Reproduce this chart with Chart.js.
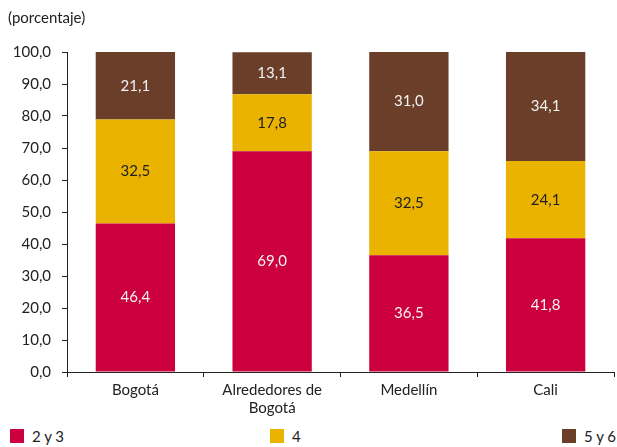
<!DOCTYPE html>
<html lang="es">
<head>
  <meta charset="UTF-8">
  <title>Estratos por ciudad</title>
  <script src="https://cdn.jsdelivr.net/npm/chart.js"></script>
  <style>
    body {
      margin: 0;
      background: #fff;
      font-family: Lato, sans-serif;
    }

    #wrap {
      position: relative;
      width: 617px;
      height: 420px;
    }

    #legend {
      position: relative;
      width: 617px;
      height: 27px;
      font-size: 15px;
      color: #222;
    }

    .item {
      position: absolute;
      top: 7px;
      display: flex;
      align-items: center;
    }

    .box {
      width: 14px;
      height: 14px;
      margin-right: 8px;
    }
  </style>
</head>
<body>
  <div id="wrap"><canvas id="barGraph"></canvas></div>
  <div id="legend"></div>

  <script>
    const categories = [["Bogotá"], ["Alrededores de", "Bogotá"], ["Medellín"], ["Cali"]];
    const seriesNames = ["2 y 3", "4", "5 y 6"];
    const estrato23 = [46.4, 69.0, 36.5, 41.8];
    const estrato4 = [32.5, 17.8, 32.5, 24.1];
    const estrato56 = [21.1, 13.1, 31.0, 34.1];
    const colors = ["#CC003C", "#E9B300", "#6A3E28"];
    const labelColors = ["#f2f2f2", "#222222", "#f2f2f2"];

    const fmt = (v) => v.toFixed(1).replace(".", ",");

    // draws the value in the middle of every segment
    const segmentLabels = {
      id: "segmentLabels",
      afterDatasetsDraw(chart) {
        const ctx = chart.ctx;
        ctx.save();
        ctx.font = "15px Lato, sans-serif";
        ctx.textAlign = "center";
        ctx.textBaseline = "middle";
        chart.data.datasets.forEach((ds, i) => {
          chart.getDatasetMeta(i).data.forEach((bar, j) => {
            const { x, y, base } = bar.getProps(["x", "y", "base"], true);
            ctx.fillStyle = labelColors[i];
            ctx.fillText(fmt(ds.data[j]), x, (y + base) / 2);
          });
        });
        ctx.restore();
      }
    };

    const datasets = [estrato23, estrato4, estrato56].map((data, i) => ({
      label: seriesNames[i],
      data: data,
      backgroundColor: colors[i],
      borderWidth: 0,
      barPercentage: 0.58,
      categoryPercentage: 1
    }));

    new Chart(document.getElementById("barGraph"), {
      type: "bar",
      data: { labels: categories, datasets: datasets },
      plugins: [segmentLabels],
      options: {
        responsive: true,
        maintainAspectRatio: false,
        animation: false,
        layout: { padding: { left: 8, right: 3, top: 0, bottom: 0 } },
        scales: {
          x: {
            stacked: true,
            grid: { display: true, drawOnChartArea: false, tickLength: 5, color: "#222", offset: true },
            border: { color: "#222", width: 1 },
            ticks: { color: "#222", font: { family: "Lato", size: 15 }, padding: 4 },
            afterFit: (scale) => { scale.height = 48; }
          },
          y: {
            stacked: true,
            min: 0,
            max: 100,
            grid: { display: true, drawOnChartArea: false, tickLength: 5, color: "#222" },
            border: { color: "#222", width: 1 },
            ticks: {
              stepSize: 10,
              color: "#222",
              font: { family: "Lato", size: 15 },
              padding: 11,
              callback: (v) => fmt(v)
            },
            afterFit: (scale) => { scale.width = 59; }
          }
        },
        plugins: {
          legend: { display: false },
          tooltip: { enabled: false },
          title: {
            display: true,
            text: "(porcentaje)",
            align: "start",
            color: "#222",
            font: { family: "Lato", size: 15, weight: "normal" },
            padding: { top: 9, bottom: 25 }
          }
        }
      }
    });

    // legend under the chart, one item per series
    const legendLeft = [10, 270, 562];
    const legend = document.getElementById("legend");
    seriesNames.forEach((name, i) => {
      const item = document.createElement("div");
      item.className = "item";
      item.style.left = legendLeft[i] + "px";
      item.innerHTML = `<span class="box" style="background:${colors[i]}"></span><span>${name}</span>`;
      legend.appendChild(item);
    });
  </script>
</body>
</html>
